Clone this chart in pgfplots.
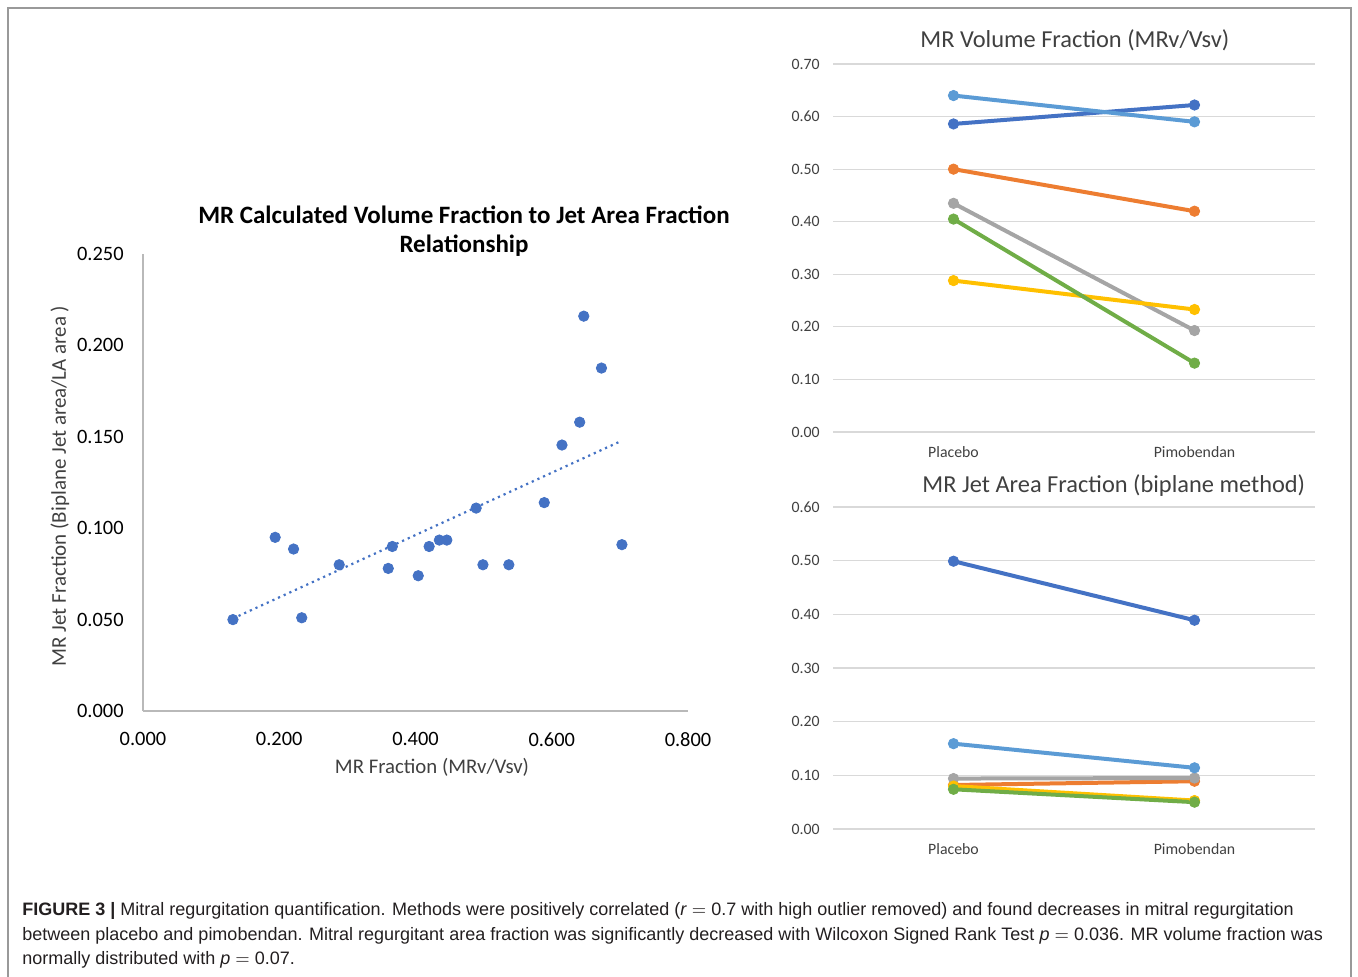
\documentclass[border=0pt]{standalone}
\usepackage{pgfplots}
\pgfplotsset{compat=1.18}
\usepackage{fontspec}
\setmainfont{Carlito}
\newfontfamily\capfont{Liberation Sans}
\definecolor{sBlue}{HTML}{4472C4}
\definecolor{sOrange}{HTML}{ED7D31}
\definecolor{sGray}{HTML}{A5A5A5}
\definecolor{sYellow}{HTML}{FFC000}
\definecolor{sLBlue}{HTML}{5B9BD5}
\definecolor{sGreen}{HTML}{70AD47}
\definecolor{gridc}{HTML}{D9D9D9}
\definecolor{txt}{HTML}{404040}
\definecolor{capc}{HTML}{231F20}

\pgfplotsset{
  pairstyle/.style={
    scale only axis, width=241pt,
    xmin=-0.5, xmax=1.5, xtick={0,1}, xticklabels={Placebo,Pimobendan},
    ymin=0,
    ymajorgrids, grid style={gridc, line width=0.6pt},
    axis line style={draw=none}, major tick style={draw=none},
    /pgf/number format/.cd, fixed, fixed zerofill, precision=2, assume math mode=true, /pgfplots/.cd,
    tick label style={font=\fontsize{7.9pt}{9pt}\selectfont, text=txt},
    yticklabel style={anchor=east, inner sep=0pt, xshift=-6.5pt},
    xticklabel style={anchor=north, inner sep=0pt, yshift=-7.3pt},
    clip=false,
  },
  pl/.style={line width=2pt, mark=*, mark size=2.6pt, mark options={solid, line width=0.4pt}, color=#1},
}

\begin{document}
\begin{tikzpicture}
\path[use as bounding box] (0pt,0pt) rectangle (679pt,488pt);
\draw[gray!80, line width=0.6pt] (4pt,-2pt) -- (4pt,484pt) -- (675.5pt,484pt) -- (675.5pt,-2pt);

% ---------------- Scatter ----------------
\begin{axis}[
  at={(71.5pt,132.5pt)}, anchor=south west,
  scale only axis, width=272.5pt, height=228.5pt,
  xmin=0, xmax=0.8, ymin=0, ymax=0.25,
  xtick={0,0.2,0.4,0.6,0.8}, ytick={0,0.05,0.1,0.15,0.2,0.25},
  axis x line*=bottom, axis y line*=left,
  axis line style={-, draw=gray!55, line width=0.6pt},
  major tick style={draw=none},
  /pgf/number format/.cd, fixed, fixed zerofill, precision=3, assume math mode=true, /pgfplots/.cd,
  tick label style={font=\fontsize{10.2pt}{12pt}\selectfont, text=black},
  yticklabel style={anchor=east, inner sep=0pt, xshift=-9.5pt},
  xticklabel style={anchor=north, inner sep=0pt, yshift=-10.5pt},
  clip=false,
]
\addplot[sBlue, line width=1.1pt, dotted] coordinates {(0.132,0.0506) (0.703,0.1479)};
\addplot[only marks, mark=*, mark size=2.6pt, color=sBlue] coordinates {
(0.132,0.050) (0.194,0.095) (0.221,0.0886) (0.233,0.051) (0.288,0.080)
(0.360,0.078) (0.366,0.090) (0.404,0.074) (0.420,0.090) (0.435,0.0935)
(0.446,0.0935) (0.489,0.111) (0.499,0.080) (0.537,0.080) (0.589,0.114)
(0.615,0.1455) (0.641,0.158) (0.647,0.216) (0.673,0.1876) (0.703,0.091)
};
\end{axis}
\node[anchor=base, inner sep=0pt, font=\bfseries\fontsize{12.5pt}{14pt}\selectfont] at (232pt,376pt) {MR Calculated Volume Fraction to Jet Area Fraction};
\node[anchor=base, inner sep=0pt, font=\bfseries\fontsize{12.5pt}{14pt}\selectfont] at (232pt,361.5pt) {Relationship};
\node[rotate=90, inner sep=0pt, font=\fontsize{10.5pt}{12pt}\selectfont, text=txt] at (30pt,245pt) {MR Jet Fraction (Biplane Jet area/LA area )};
\node[anchor=base, inner sep=0pt, font=\fontsize{10.4pt}{12pt}\selectfont, text=txt] at (216pt,101.5pt) {MR Fraction (MRv/Vsv)};

% ---------------- Top right ----------------
\begin{axis}[pairstyle, at={(416.5pt,272pt)}, anchor=south west, height=184pt, ymax=0.7,
  ytick={0,0.1,0.2,0.3,0.4,0.5,0.6,0.7}]
\addplot[pl=sBlue] coordinates {(0,0.586) (1,0.622)};
\addplot[pl=sOrange] coordinates {(0,0.500) (1,0.420)};
\addplot[pl=sGray] coordinates {(0,0.435) (1,0.193)};
\addplot[pl=sYellow] coordinates {(0,0.288) (1,0.233)};
\addplot[pl=sLBlue] coordinates {(0,0.640) (1,0.590)};
\addplot[pl=sGreen] coordinates {(0,0.405) (1,0.131)};
\end{axis}
\node[anchor=base west, inner sep=0pt, font=\fontsize{12.2pt}{14pt}\selectfont, text=txt] at (460pt,464pt) {MR Volume Fraction (MRv/Vsv)};

% ---------------- Bottom right ----------------
\begin{axis}[pairstyle, at={(416.5pt,73.5pt)}, anchor=south west, height=161pt, ymax=0.6,
  ytick={0,0.1,0.2,0.3,0.4,0.5,0.6}]
\addplot[pl=sBlue] coordinates {(0,0.499) (1,0.389)};
\addplot[pl=sOrange] coordinates {(0,0.082) (1,0.089)};
\addplot[pl=sGray] coordinates {(0,0.094) (1,0.095)};
\addplot[pl=sYellow] coordinates {(0,0.080) (1,0.053)};
\addplot[pl=sLBlue] coordinates {(0,0.159) (1,0.114)};
\addplot[pl=sGreen] coordinates {(0,0.074) (1,0.050)};
\end{axis}
\node[anchor=base west, inner sep=0pt, font=\fontsize{12.2pt}{14pt}\selectfont, text=txt] at (461pt,242pt) {MR Jet Area Fraction (biplane method)};

% ---------------- Caption ----------------
\begin{scope}[every node/.style={anchor=base west, inner sep=0pt, font=\capfont\fontsize{9pt}{12pt}\selectfont, text=capc}]
\node at (11pt,30.5pt) {\textbf{FIGURE 3 |} Mitral regurgitation quantification. Methods were positively correlated (\textit{r} $=$ 0.7 with high outlier removed) and found decreases in mitral regurgitation};
\node at (11pt,18pt) {between placebo and pimobendan. Mitral regurgitant area fraction was significantly decreased with Wilcoxon Signed Rank Test \textit{p} $=$ 0.036. MR volume fraction was};
\node at (11pt,6pt) {normally distributed with \textit{p} $=$ 0.07.};
\end{scope}
\end{tikzpicture}
\end{document}
